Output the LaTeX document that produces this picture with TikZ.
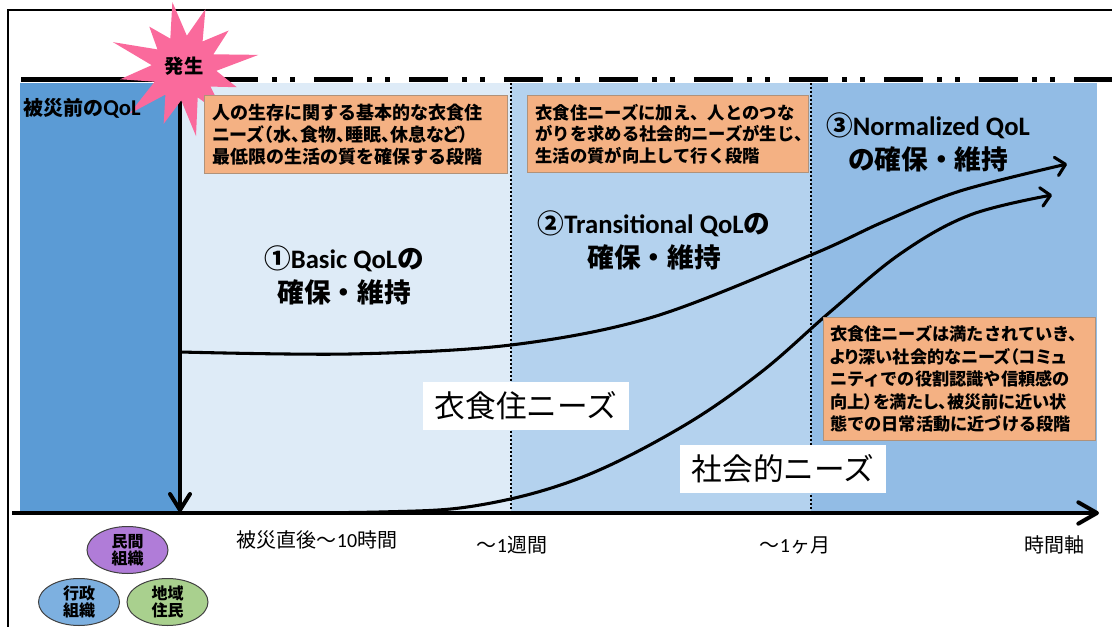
\documentclass[tikz,border=0pt]{standalone}
\usepackage{fontspec}
\setmainfont{Noto Sans CJK JP}
\newfontfamily\lat{Carlito}
\usetikzlibrary{arrows.meta,shapes.geometric}
\definecolor{pre}{HTML}{5B9BD5}
\definecolor{ph1}{HTML}{DEEBF7}
\definecolor{ph2}{HTML}{B4D2EE}
\definecolor{ph3}{HTML}{92BCE5}
\definecolor{orng}{HTML}{F4B183}
\definecolor{orbd}{HTML}{B0927A}
\definecolor{pinkst}{HTML}{FA6A9C}
\definecolor{purp}{HTML}{B07CD8}
\definecolor{bluee}{HTML}{7DB0E0}
\definecolor{grn}{HTML}{A9D08E}
\begin{document}
\begin{tikzpicture}[x=0.75pt,y=-0.75pt,
  note/.style={draw=orbd, line width=0.75pt, fill=orng, anchor=north west, align=left, inner ysep=0pt},
  head/.style={align=center, font=\bfseries\fontsize{20}{25.5}\selectfont},
  needlbl/.style={fill=white, font=\fontsize{23}{28}\selectfont, minimum width=154.5pt, minimum height=36pt, inner sep=0pt},
  axlbl/.style={font=\fontsize{15}{18}\selectfont},
  org/.style={ellipse, draw=black!75, line width=0.75pt, minimum width=60.75pt, minimum height=35.25pt, inner sep=0pt, align=center, font=\bfseries\fontsize{12}{13}\selectfont},
  curve/.style={line width=2.3pt, -{Straight Barb[length=7pt,width=14pt,round]}},
  dotline/.style={line width=1.5pt, dash pattern=on 1.5pt off 1.5pt}
]
\useasboundingbox (0,0) rectangle (1112,627);
% regions
\fill[pre] (20,83) rectangle (178,513);
\fill[ph1] (178,83) rectangle (511,513);
\fill[ph2] (511,83) rectangle (811,513);
\fill[ph3] (811,83) rectangle (1097,513);
% dotted separators
\coordinate (d1t) at (511,83); \coordinate (d1b) at (511,513);
\coordinate (d2t) at (811,83); \coordinate (d2b) at (811,513);
\draw[dotline] (d1t) -- (d1b);
\draw[dotline] (d2t) -- (d2b);
% frame
\draw[line width=1.5pt] (1112,10) -- (8,10) -- (8,627);
% curves
\coordinate (a0) at (180,352); \coordinate (a1) at (350,354); \coordinate (a2) at (511,345);
\coordinate (a3) at (653,317); \coordinate (a4) at (811,255); \coordinate (a5) at (883,222);
\coordinate (a6) at (960,191); \coordinate (a7) at (1067,164);
\draw[curve] plot[smooth, tension=0.55] coordinates {(a0) (a1) (a2) (a3) (a4) (a5) (a6) (a7)};
\coordinate (b0) at (180,513); \coordinate (b1) at (380,512); \coordinate (b2) at (480,505);
\coordinate (b3) at (580,478); \coordinate (b4) at (680,428); \coordinate (b5) at (760,373);
\coordinate (b6) at (830,312); \coordinate (b7) at (900,254); \coordinate (b8) at (970,215);
\coordinate (b9) at (1052,195);
\draw[curve] plot[smooth, tension=0.6] coordinates {(b0) (b1) (b2) (b3) (b4) (b5) (b6) (b7) (b8) (b9)};
% event arrow and axis
\coordinate (evtop) at (180,83); \coordinate (evbot) at (180,512);
\draw[line width=3pt, -{Straight Barb[length=12pt,width=15pt,round]}] (evtop) -- (evbot);
\coordinate (axs) at (12,513); \coordinate (axe) at (1099,513);
\draw[line width=3pt, -{Straight Barb[length=14pt,width=16pt,round]}] (axs) -- (axe);
% top line
\coordinate (tl0) at (21,80); \coordinate (tl1) at (219,80); \coordinate (tl2) at (1112,80);
\draw[line width=3.75pt] (tl0) -- (tl1);
\draw[line width=3.75pt, dash pattern=on 29.25pt off 10.5pt on 3.75pt off 9.75pt on 3.75pt off 14.25pt] (tl1) -- (tl2);
% starburst
\fill[pinkst, shift={(184,68)}, scale=1.08] (-70:58) -- (-55:30) -- (-40:54) -- (-25:30) -- (-10:70) -- (5:30) -- (20:52) -- (35:30) -- (50:60) -- (65:30) -- (80:64) -- (95:30) -- (110:55) -- (125:30) -- (140:66) -- (155:30) -- (170:60) -- (185:30) -- (200:70) -- (215:30) -- (230:50) -- (245:30) -- (260:62) -- (275:30) -- cycle;
\node[font=\bfseries\fontsize{14.5}{16}\selectfont] (hassei) at (184,66) {発生};
% labels
\node[anchor=west, font=\bfseries\fontsize{15}{18}\selectfont, inner sep=0pt] (preq) at (23,108) {被災前の{\lat\bfseries\fontsize{17}{18}\selectfont QoL}};
\node[head] (h1) at (344,275) {①{\lat\bfseries Basic QoL}の\\確保・維持};
\node[head] (h2) at (654,240) {②{\lat\bfseries Transitional QoL}の\\確保・維持};
\node[head] (h3) at (928,142) {③{\lat\bfseries Normalized QoL}\\の確保・維持};
% notes
\node[note, text width=215pt, minimum height=58.5pt, inner xsep=6pt, font=\bfseries\fontsize{13.5}{16.5}\selectfont] (n1) at (204,95)
  {人の生存に関する基本的な衣食住\\{\addfontfeatures{RawFeature=+palt}ニーズ（水、食物、睡眠、休息など）}\\最低限の生活の質を確保する段階};
\node[note, text width=198.75pt, minimum height=57.75pt, inner xsep=6pt, font=\bfseries\fontsize{13}{16}\selectfont] (n2) at (527,95)
  {衣食住ニーズに加え、人とのつな\\がりを求める社会的ニーズが生じ、\\生活の質が向上して行く段階};
\node[note, text width=194pt, minimum height=92.25pt, inner xsep=5pt, font=\bfseries\fontsize{12.9}{16.9}\selectfont] (n3) at (823,317)
  {衣食住ニーズは満たされていき、\\{\addfontfeatures{RawFeature=+palt}より深い社会的なニーズ（コミュ}\\ニティでの役割認識や信頼感の\\{\addfontfeatures{RawFeature=+palt}向上）を満たし、被災前に近い状}\\態での日常活動に近づける段階};
% need labels
\node[needlbl] (lblA) at (526,406) {衣食住ニーズ};
\node[needlbl] (lblB) at (783,469) {社会的ニーズ};
% axis labels
\node[axlbl] (t0) at (317,540) {被災直後～{\lat 10}時間};
\node[axlbl] (t1) at (512,545) {～{\lat 1}週間};
\node[axlbl] (t2) at (795,545) {～{\lat 1}ヶ月};
\node[axlbl] (t3) at (1054,545) {時間軸};
% organisations
\node[org, fill=purp] (o1) at (127.5,550) {民間\\組織};
\node[org, fill=bluee] (o2) at (79,602) {行政\\組織};
\node[org, fill=grn] (o3) at (167.5,602) {地域\\住民};
\end{tikzpicture}
\end{document}
